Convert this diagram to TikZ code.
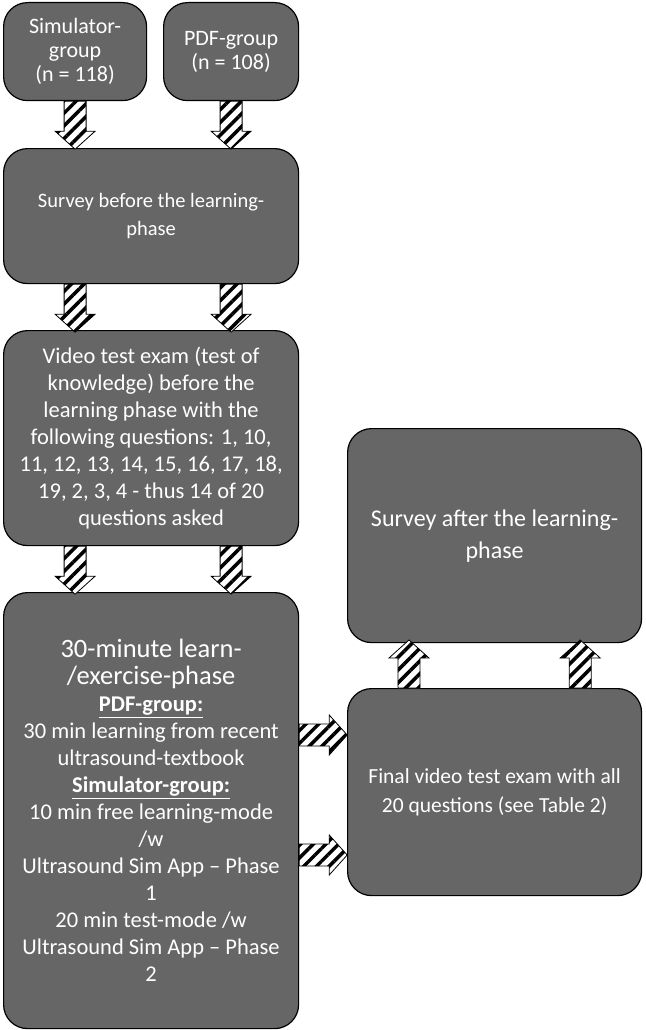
\documentclass[tikz,border=0pt]{standalone}
\usepackage{fontspec}
\setmainfont{Carlito}
\usetikzlibrary{patterns.meta,calc}
\begin{document}
\begin{tikzpicture}[x=1pt,y=-1pt,
  box/.style={draw=black,line width=1.2pt,fill=black!60,rounded corners=24pt,text=white,align=center,font=\fontsize{20.5}{28}\selectfont,inner sep=2pt},
  pics/barrow/.style={code={
    \fill[white] (0,-11)--(30,-11)--(30,-20)--(48,0)--(30,20)--(30,11)--(0,11)--cycle;
    \draw[line width=0.8pt,pattern={Lines[angle=45,distance=9pt,line width=3.5pt]}] (0,-11)--(30,-11)--(30,-20)--(48,0)--(30,20)--(30,11)--(0,11)--cycle;
  }}]
\useasboundingbox (0,0) rectangle (645,1030);
\node[box,minimum width=143pt,minimum height=98pt,anchor=north west,font=\fontsize{22}{24}\selectfont] (sim) at (3,2) {Simulator-\\group\\(n = 118)};
\node[box,minimum width=135pt,minimum height=98pt,anchor=north west,font=\fontsize{22}{24}\selectfont] (pdf) at (163,2) {PDF-group\\(n = 108)};
\node[box,minimum width=295pt,minimum height=135pt,anchor=north west] (survey) at (3,148) {Survey before the learning-\\phase};
\node[box,minimum width=295pt,minimum height=215pt,anchor=north west,font=\fontsize{22.5}{27}\selectfont] (video) at (3,330) {Video test exam (test of\\knowledge) before the\\learning phase with the\\following questions: 1, 10,\\11, 12, 13, 14, 15, 16, 17, 18,\\19, 2, 3, 4 - thus 14 of 20\\questions asked};
\node[box,minimum width=295pt,minimum height=436pt,anchor=north west,font=\fontsize{22.5}{27}\selectfont] (learn) at (3,592) {{\fontsize{26.5}{29}\selectfont 30-minute learn-}\\{\fontsize{26.5}{29}\selectfont /exercise-phase}\\\textbf{\underline{PDF-group:}}\\30 min learning from recent\\ultrasound-textbook\\\textbf{\underline{Simulator-group:}}\\10 min free learning-mode\\/w\\Ultrasound Sim App – Phase\\1\\20 min test-mode /w\\Ultrasound Sim App – Phase\\2};
\node[box,minimum width=294pt,minimum height=214pt,anchor=north west,font=\fontsize{24}{32}\selectfont] (after) at (347,428) {Survey after the learning-\\phase};
\node[box,minimum width=294pt,minimum height=207pt,anchor=north west,font=\fontsize{21.5}{29}\selectfont] (final) at (347,688) {Final video test exam with all\\20 questions (see Table 2)};
\pic[rotate=-90] at (sim.south) {barrow};
\pic[rotate=-90] at (pdf.south) {barrow};
\pic[rotate=-90] at (sim.south |- survey.south) {barrow};
\pic[rotate=-90] at (pdf.south |- survey.south) {barrow};
\pic[rotate=-90] at (sim.south |- video.south) {barrow};
\pic[rotate=-90] at (pdf.south |- video.south) {barrow};
\pic[rotate=90] at ($(final.north west)!0.21!(final.north east)$) {barrow};
\pic[rotate=90] at ($(final.north west)!0.79!(final.north east)$) {barrow};
\pic at (learn.east |- 0,735) {barrow};
\pic at (learn.east |- 0,855) {barrow};
\end{tikzpicture}
\end{document}
